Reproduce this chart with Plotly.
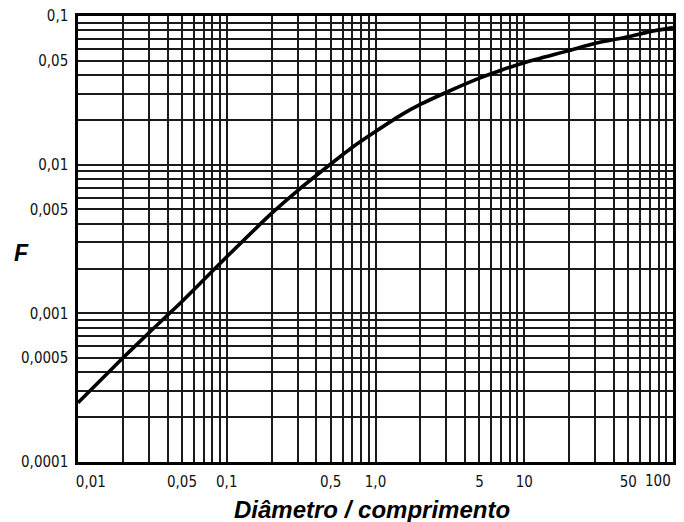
import plotly.graph_objects as go

# Curve: F as a function of diameter / length ratio
ratio = [0.01, 0.02, 0.03, 0.05, 0.1, 0.2, 0.3, 0.5, 0.7, 1.0, 1.5, 2, 3, 5, 7, 10, 20, 30, 50, 70, 100]
f_values = [0.00025, 0.0005, 0.00074, 0.0012, 0.0024, 0.0047, 0.0067, 0.0101, 0.0131, 0.0167,
            0.0217, 0.0254, 0.0307, 0.0382, 0.0432, 0.0485, 0.0585, 0.0655, 0.0725, 0.0785, 0.0835]

# Log grid values (1..9 in every decade) and the labelled ones
x_decades = [0.01, 0.1, 1, 10]
y_decades = [0.0001, 0.001, 0.01]
x_labels = {0.01: "\u00a0\u00a0\u00a0\u00a0\u00a0\u00a00,01", 0.05: "0,05", 0.1: "0,1", 0.5: "0,5",
            1.0: "1,0", 5.0: "5", 10.0: "10", 50.0: "50"}
x_end_label = "100"
y_labels = {0.0001: "0,0001", 0.0005: "0,0005", 0.001: "0,001", 0.005: "0,005",
            0.01: "0,01", 0.05: "0,05", 0.1: "0,1"}


def grid_values(decades):
    vals = []
    for d in decades:
        for m in range(1, 10):
            vals.append(round(d * m, 6))
    vals.append(round(decades[-1] * 10, 6))
    return vals


x_grid = grid_values(x_decades)
y_grid = grid_values(y_decades)
x_text = [x_labels.get(v, "") for v in x_grid]
y_text = [y_labels.get(v, "") for v in y_grid]

tick_font = dict(family="Liberation Sans Narrow, DejaVu Sans Condensed, Liberation Sans",
                 size=15, color="#111111")

fig = go.Figure()
fig.add_trace(go.Scatter(
    x=ratio, y=f_values, mode="lines",
    line=dict(color="#000000", width=3.6, shape="spline", smoothing=0.6),
    hoverinfo="skip", showlegend=False,
))

axis_common = dict(
    type="log",
    showgrid=True, gridcolor="#1a1a1a", gridwidth=1.6,
    showline=True, linecolor="#000000", linewidth=2.5, mirror=True,
    ticks="", zeroline=False, tickfont=tick_font, tickmode="array",
)

fig.update_xaxes(range=[-2, 2], tickvals=x_grid, ticktext=x_text, ticklabelstandoff=4, **axis_common)
fig.update_yaxes(range=[-4, -1], tickvals=y_grid, ticktext=y_text, ticklabelstandoff=4, **axis_common)

fig.update_layout(
    width=684, height=522,
    margin=dict(l=78, r=11, t=16, b=60, autoexpand=False),
    paper_bgcolor="#ffffff", plot_bgcolor="#ffffff",
    annotations=[
        # label at the right end of the x axis, kept inside the page
        dict(text=x_end_label, xref="paper", yref="paper", x=1, y=0, yshift=-19,
             xanchor="right", yanchor="middle", showarrow=False, font=tick_font),
        dict(text="<b><i>Diâmetro / comprimento</i></b>", xref="paper", yref="paper",
             x=0.494, y=0, yshift=-47, xanchor="center", yanchor="middle", showarrow=False,
             font=dict(family="Liberation Sans, Arial, sans-serif", size=24, color="#000000")),
        dict(text="<b><i>F</i></b>", xref="paper", yref="paper",
             x=0, xshift=-57, y=0.468, xanchor="center", yanchor="middle", showarrow=False,
             font=dict(family="Liberation Sans, Arial, sans-serif", size=23, color="#000000")),
    ],
)

fig.write_html("out.html")
